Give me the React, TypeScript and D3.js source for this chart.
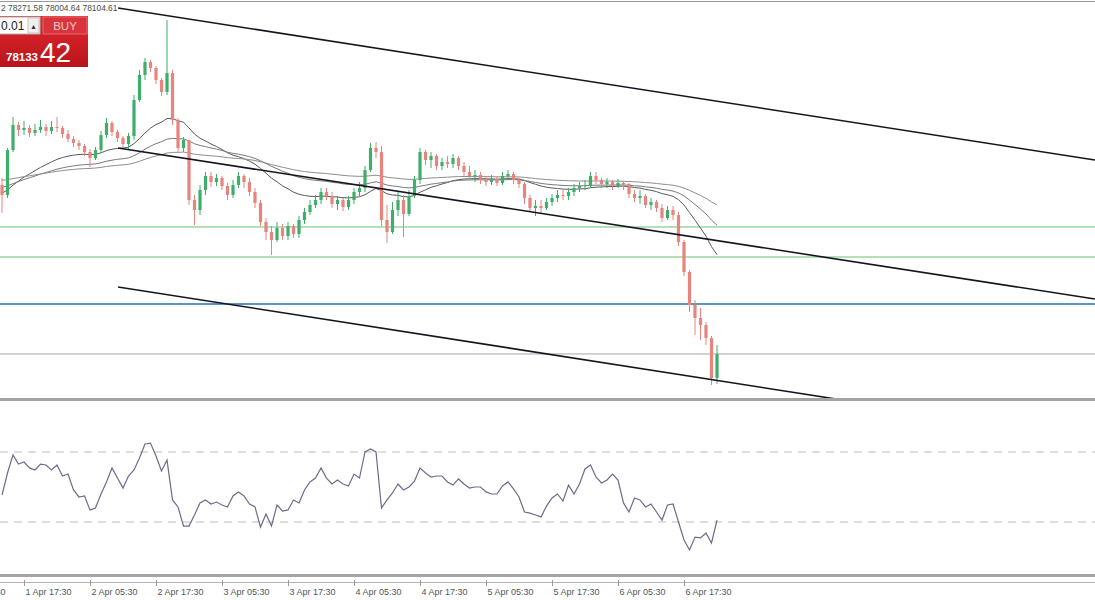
import React from "react";
import * as d3 from "d3";

// hourly BTCUSD candles, 1 Apr 13:30 .. 6 Apr 23:30 (UTC)
const candleStart = "2025-04-01T13:30:00Z";
const firstOpen = 83360;

const closes = [
  83049, 84448, 85225, 85070, 85132, 84977, 85070, 85163, 85039, 85163,
  85132, 84945, 84790, 84666, 84572, 84386, 84199, 84448, 84914, 85288,
  85008, 84821, 84635, 84883, 86003, 86781, 87185, 86998, 86625, 86252,
  86843, 85381, 84510, 84759, 82893, 82582, 83204, 83640, 83453, 83577,
  83329, 83049, 83360, 83640, 83453, 83142, 82800, 82209, 81898, 81649,
  82022, 81773, 82084, 81836, 82271, 82520, 82738, 82893, 83142, 83017,
  82769, 82893, 82675, 82893, 83142, 83266, 83826, 84510, 84386, 82271,
  81898, 82582, 82893, 82458, 83017, 83515, 84386, 84137, 84262, 83951,
  84075, 84013, 84199, 83951, 83764, 83640, 83671, 83515, 83453, 83546,
  83422, 83640, 83702, 83515, 83391, 82955, 82644, 82707, 82644, 82831,
  82955, 83049, 83017, 83142, 83266, 83329, 83360, 83640, 83515, 83391,
  83453, 83329, 83422, 83391, 83080, 82955, 83017, 82738, 82831, 82644,
  82333, 82582, 82427, 81587, 80654, 79627, 79223, 79005, 78601, 77357,
  78105,
];

const highs = [
  83577, 84510, 85474, 85319, 85350, 85225, 85257, 85381, 85257, 85350,
  85474, 85194, 85070, 84883, 84759, 84635, 84479, 84541, 85039, 85443,
  85350, 85070, 84883, 84977, 86159, 86936, 87309, 87247, 87060, 86687,
  88491, 86936, 85443, 84852, 84759, 83049, 83360, 83764, 83764, 83702,
  83640, 83422, 83515, 83764, 83702, 83577, 83266, 82893, 82333, 82084,
  82209, 82147, 82209, 82147, 82396, 82644, 82893, 83049, 83266, 83266,
  83142, 83017, 82955, 83017, 83266, 83453, 83951, 84666, 84697, 84572,
  82738, 82831, 83142, 83049, 83204, 83640, 84510, 84448, 84386, 84324,
  84199, 84262, 84324, 84262, 84075, 83951, 83826, 83764, 83640, 83671,
  83609, 83764, 83826, 83764, 83577, 83453, 83049, 82893, 82893, 82955,
  83080, 83204, 83204, 83266, 83391, 83453, 83515, 83764, 83764, 83577,
  83577, 83515, 83546, 83484, 83422, 83204, 83204, 83080, 82955, 82893,
  82769, 82707, 82707, 82520, 81649, 80715, 79783, 79534, 79099, 78663,
  78384,
];

const lows = [
  82489, 82955, 84386, 84883, 84914, 84852, 84883, 84977, 84883, 84945,
  85008, 84821, 84696, 84541, 84448, 84262, 83920, 84137, 84355, 84821,
  84883, 84696, 84510, 84448, 84759, 85941, 86625, 86874, 86501, 86127,
  86159, 85225, 84386, 84386, 82738, 82116, 82427, 83049, 83297, 83329,
  83204, 82893, 82955, 83266, 83266, 83017, 82644, 82084, 81649, 81183,
  81587, 81649, 81649, 81711, 81711, 82147, 82427, 82644, 82769, 82893,
  82644, 82582, 82551, 82582, 82769, 83017, 83142, 83764, 84199, 82084,
  81556, 81836, 82396, 81742, 82396, 82955, 83391, 83982, 83889, 83826,
  83826, 83889, 83889, 83826, 83640, 83515, 83453, 83391, 83329, 83360,
  83329, 83360, 83515, 83391, 83266, 82769, 82520, 82396, 82458, 82582,
  82707, 82831, 82893, 82893, 83017, 83142, 83204, 83266, 83391, 83266,
  83266, 83204, 83266, 83204, 82955, 82831, 82769, 82644, 82582, 82520,
  82209, 82271, 82271, 81463, 80530, 79409, 78694, 78539, 78384, 77139,
  77170,
];

const rsiValues = [
  45.4, 58.0, 68.3, 63.1, 64.3, 60.9, 59.7, 63.1, 62.6, 59.7,
  62.6, 56.3, 57.4, 48.3, 44.3, 44.9, 36.9, 38.0, 46.0, 52.9,
  60.9, 55.1, 49.4, 56.3, 59.7, 66.6, 74.6, 75.1, 67.7, 59.2,
  65.4, 42.6, 38.6, 27.7, 27.7, 34.0, 40.9, 42.6, 40.3, 41.4,
  39.7, 38.6, 44.9, 47.2, 44.9, 40.3, 38.6, 27.1, 34.6, 27.7,
  39.7, 36.3, 36.9, 42.6, 40.9, 48.3, 52.9, 55.1, 60.9, 55.1,
  51.7, 54.0, 51.7, 50.6, 57.4, 55.1, 70.0, 71.7, 70.0, 38.0,
  42.6, 46.6, 51.7, 48.3, 50.0, 53.4, 60.9, 58.0, 55.7, 56.3,
  56.3, 52.9, 51.1, 54.6, 51.7, 49.4, 50.0, 50.0, 47.2, 46.0,
  46.0, 50.6, 52.9, 48.9, 44.3, 35.7, 35.1, 34.0, 32.9, 39.1,
  43.7, 46.0, 42.0, 51.1, 46.0, 51.7, 60.3, 62.6, 55.7, 52.3,
  54.0, 57.4, 54.0, 40.9, 35.7, 43.7, 42.6, 38.6, 40.3, 35.7,
  31.1, 39.7, 40.3, 30.0, 19.7, 14.0, 21.4, 20.9, 23.7, 18.0,
  31.1,
];

// moving averages (EMA periods in hourly bars) and their starting values
const maPeriods = [26, 52, 100];
const maSeeds = [83110, 83297, 83515];
const maColors = ["#5a5a5a", "#7a7a7a", "#8e8e8e"];

// horizontal levels
const greenLevels = [82054, 81121];
const blueLevel = 79659;
const bidPrice = 78104.61;

// channel trend lines [time, price]
const trendLines = [
  [["2025-04-02T10:36:00Z", 88864], ["2025-04-09T20:12:00Z", 84137]],
  [["2025-04-02T10:36:00Z", 84510], ["2025-04-09T20:12:00Z", 79814]],
  [["2025-04-02T10:36:00Z", 80187], ["2025-04-09T20:12:00Z", 75448]],
];

const timeTicks = [
  "2025-04-01T05:30:00Z", "2025-04-01T17:30:00Z", "2025-04-02T05:30:00Z",
  "2025-04-02T17:30:00Z", "2025-04-03T05:30:00Z", "2025-04-03T17:30:00Z",
  "2025-04-04T05:30:00Z", "2025-04-04T17:30:00Z", "2025-04-05T05:30:00Z",
  "2025-04-05T17:30:00Z", "2025-04-06T05:30:00Z", "2025-04-06T17:30:00Z",
];

const headerText = "2 78271.58 78004.64 78104.61";

const W = 1095;
const H = 600;
const FONT = "'Liberation Sans', Arial, sans-serif";

export default function App() {
  const t0 = new Date(candleStart);
  const times = closes.map((_, i) => d3.utcHour.offset(t0, i));
  const x = d3.scaleUtc().domain([t0, times[times.length - 1]]).range([2, 717]);
  const y = d3.scaleLinear().domain([76735, 89051]).range([398, 2]);
  const yr = d3.scaleLinear().domain([0, 100]).range([574.5, 399.5]);
  const fmt = d3.utcFormat("%-d %b %H:%M");

  const opens = closes.map((c, i) => (i === 0 ? firstOpen : closes[i - 1]));

  const mas = maPeriods.map((p, k) => {
    const a = 2 / (p + 1);
    let v = maSeeds[k];
    return closes.map((c) => (v = v + a * (c - v)));
  });

  const line = d3
    .line<number>()
    .x((_, i) => x(times[i]))
    .y((d) => y(d));
  const rsiLine = d3
    .line<number>()
    .x((_, i) => x(times[i]))
    .y((d) => yr(d));

  const bw = 3.2;

  return (
    <svg
      width={W}
      height={H}
      style={{ position: "absolute", left: 0, top: 0, background: "#fff" }}
      fontFamily={FONT}
    >
      <defs>
        <clipPath id="main">
          <rect x={0} y={2} width={W} height={396} />
        </clipPath>
        <linearGradient id="red" x1="0" y1="0" x2="0" y2="1">
          <stop offset="0%" stopColor="#e3282f" />
          <stop offset="100%" stopColor="#b8141b" />
        </linearGradient>
      </defs>
      <rect width={W} height={H} fill="#fff" />
      <line x1={0} x2={W} y1={1.5} y2={1.5} stroke="#9a9a9a" />

      <g clipPath="url(#main)">
        {greenLevels.map((p, i) => (
          <line key={i} x1={0} x2={W} y1={y(p)} y2={y(p)} stroke="#6cc070" strokeWidth={1.2} />
        ))}
        <line x1={0} x2={W} y1={y(blueLevel)} y2={y(blueLevel)} stroke="#2a6fb0" strokeWidth={1.5} />
        <line x1={0} x2={W} y1={y(bidPrice)} y2={y(bidPrice)} stroke="#a8a8a8" strokeWidth={1} />

        {mas.map((m, k) => (
          <path key={k} d={line(m) || ""} fill="none" stroke={maColors[k]} strokeWidth={1} />
        ))}

        {closes.map((c, i) => {
          const o = opens[i];
          const up = c >= o;
          const col = up ? "#3fae6a" : "#e7847d";
          const cx = x(times[i]);
          const hi = Math.max(highs[i], o, c);
          const lo = Math.min(lows[i], o, c);
          const top = y(Math.max(o, c));
          const bh = Math.max(1, Math.abs(y(o) - y(c)));
          return (
            <g key={i}>
              <line x1={cx} x2={cx} y1={y(hi)} y2={y(lo)} stroke={col} strokeWidth={1} />
              <rect x={cx - bw / 2} y={top} width={bw} height={bh} fill={col} />
            </g>
          );
        })}

        {trendLines.map((tl, i) => (
          <line
            key={i}
            x1={x(new Date(tl[0][0] as string))}
            y1={y(tl[0][1] as number)}
            x2={x(new Date(tl[1][0] as string))}
            y2={y(tl[1][1] as number)}
            stroke="#151520"
            strokeWidth={1.6}
          />
        ))}
      </g>

      <text x={1} y={11} fontSize={8.4} fill="#4a4a4a">
        {headerText}
      </text>

      {/* one-click trading panel */}
      <g>
        <rect x={0} y={16} width={88} height={51} fill="url(#red)" />
        <rect x={-1} y={17} width={41} height={17} fill="#fff" stroke="#b0b0b0" />
        <rect x={28} y={18} width={11} height={15} fill="#f0f0f0" stroke="#c4c4c4" />
        <text x={33.5} y={29} textAnchor="middle" fontSize={7} fill="#333">▲</text>
        <text x={1} y={30} fontSize={12} fill="#222">0.01</text>
        <rect x={43} y={17} width={44} height={17} fill="#d9343b" stroke="#e86a6f" />
        <text x={65} y={30} textAnchor="middle" fontSize={11.5} fill="#f8c9cb">BUY</text>
        <text x={6} y={61} fontSize={11.5} fontWeight="bold" fill="#fff">78133</text>
        <text x={40} y={62} fontSize={28} fill="#fff">42</text>
      </g>

      {/* RSI panel */}
      <line x1={0} x2={W} y1={399.5} y2={399.5} stroke="#a4a4a4" strokeWidth={3} />
      {[70, 30].map((v) => (
        <line
          key={v}
          x1={0}
          x2={W}
          y1={yr(v)}
          y2={yr(v)}
          stroke="#bdbdbd"
          strokeDasharray="8,6"
        />
      ))}
      <path d={rsiLine(rsiValues) || ""} fill="none" stroke="#6c6c8c" strokeWidth={1.2} />
      <line x1={0} x2={W} y1={575.5} y2={575.5} stroke="#a4a4a4" strokeWidth={3} />

      {/* time axis */}
      <line x1={0} x2={W} y1={582.5} y2={582.5} stroke="#b4b4b4" />
      {timeTicks.map((t) => {
        const d = new Date(t);
        const tx = Math.round(x(d)) + 0.5;
        return (
          <g key={t}>
            <line x1={tx} x2={tx} y1={580} y2={586} stroke="#9a9a9a" />
            <text x={tx + 1} y={595} fontSize={9} fill="#555">
              {fmt(d)}
            </text>
          </g>
        );
      })}
    </svg>
  );
}
